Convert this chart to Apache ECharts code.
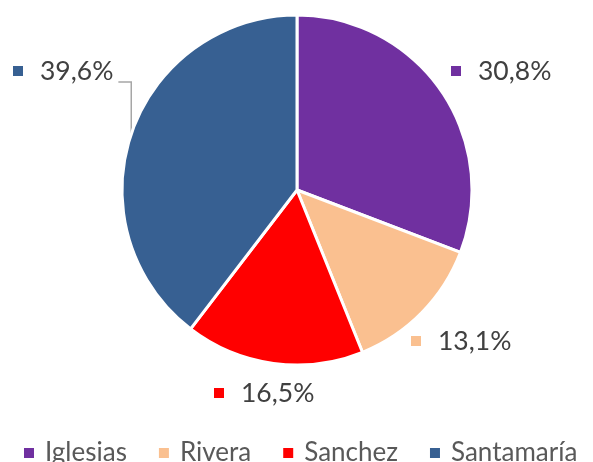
<!DOCTYPE html>
<html>
<head>
<meta charset="utf-8">
<script src="https://cdn.jsdelivr.net/npm/echarts@6/dist/echarts.min.js"></script>
<style>
  html, body { margin: 0; padding: 0; background: #fff; }
  #chart { width: 593px; height: 462px; }
</style>
</head>
<body>
<div id="chart"></div>
<script>
var names = ['Iglesias', 'Rivera', 'Sanchez', 'Santamaría'];
var shares = [30.8, 13.1, 16.5, 39.6];
var colors = ['#7030A0', '#FAC090', '#FF0000', '#376092'];

// where each label sits (left of marker, vertical middle)
var labelPos = [[451, 71], [411, 341], [214, 393], [13, 71]];

var chart = echarts.init(document.getElementById('chart'));
var font = 'Lato, "Open Sans", sans-serif';

var rich = { v: { fontSize: 26.5, color: '#404040', fontFamily: font, padding: [0, 0, 0, 17] } };
colors.forEach(function (c, i) {
  rich['m' + i] = { width: 10, height: 10, backgroundColor: c };
});

var option = {
  animation: false,
  color: colors,
  legend: {
    top: 435,
    left: 17,
    icon: 'rect',
    itemWidth: 12,
    itemHeight: 12,
    itemGap: 30,
    textStyle: { fontSize: 26, color: '#595959', fontFamily: font, padding: [0, 0, 0, 5] }
  },
  series: [{
    type: 'pie',
    center: [297, 190],
    radius: 175,
    startAngle: 90,
    itemStyle: { borderColor: '#fff', borderWidth: 3 },
    label: {
      show: true,
      position: 'outside',
      overflow: 'none',
      formatter: function (p) {
        return '{m' + p.dataIndex + '|}{v|' + p.value.toFixed(1).replace('.', ',') + '%}';
      },
      rich: rich
    },
    labelLine: { show: true, lineStyle: { color: '#a6a6a6', width: 1.5 } },
    labelLayout: function (p) {
      var pos = labelPos[p.dataIndex];
      var out = { x: pos[0], y: pos[1], align: 'left', verticalAlign: 'middle' };
      if (p.labelLinePoints) {
        var a = p.labelLinePoints[0];
        var ly = pos[1] + 11;
        out.labelLinePoints = [[a[0], a[1]], [a[0], ly], [pos[0] + p.labelRect.width + 5, ly]];
      }
      return out;
    },
    data: names.map(function (n, i) {
      var d = { name: n, value: shares[i] };
      if (i !== 3) d.labelLine = { show: false };
      return d;
    })
  }]
};
chart.setOption(option);
</script>
</body>
</html>
